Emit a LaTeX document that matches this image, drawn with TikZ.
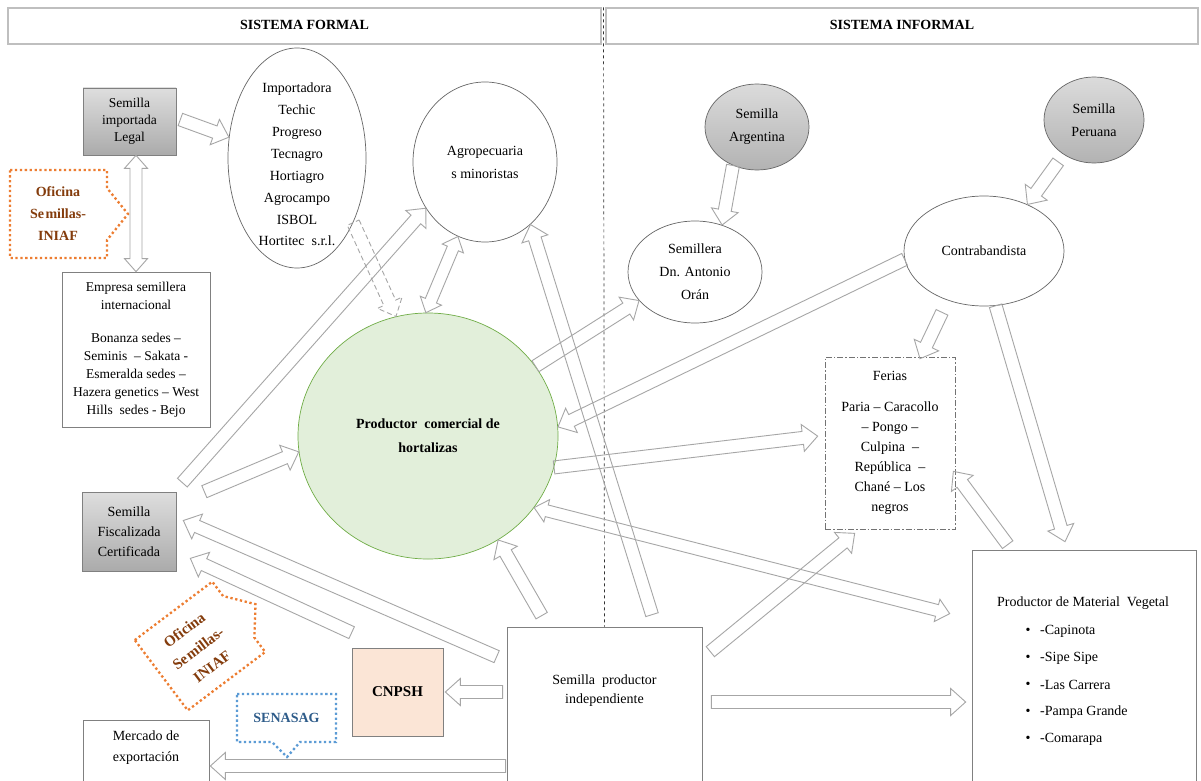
\documentclass[tikz,border=0pt]{standalone}
\usepackage{fontspec}
\setmainfont{Liberation Serif}
\usetikzlibrary{calc,shapes.geometric}
\definecolor{arrgray}{HTML}{A6A6A6}
\definecolor{boxgray}{HTML}{808080}
\definecolor{hdrgray}{HTML}{BFBFBF}
\definecolor{greenfill}{HTML}{E2EFDA}
\definecolor{greenline}{HTML}{70AD47}
\definecolor{peach}{HTML}{FBE5D6}
\definecolor{orangedot}{HTML}{ED7D31}
\definecolor{brownt}{HTML}{843C0C}
\definecolor{bluedot}{HTML}{5B9BD5}
\definecolor{bluet}{HTML}{2E5C8A}

% single block arrow from #2 to #3
\newcommand\barr[3][]{%
  \coordinate (bA) at (#2);
  \coordinate (bB) at (#3);
  \coordinate (bH) at ($(bB)!15pt!(bA)$);
  \draw[blockarrow,#1] ($(bA)!6.5pt!90:(bB)$) -- ($(bH)!6.5pt!-90:(bA)$) -- ($(bH)!13.5pt!-90:(bA)$) -- (bB) -- ($(bH)!13.5pt!90:(bA)$) -- ($(bH)!6.5pt!90:(bA)$) -- ($(bA)!6.5pt!-90:(bB)$) -- cycle;
}
% double block arrow between #2 and #3
\newcommand\darr[3][]{%
  \coordinate (bA) at (#2);
  \coordinate (bB) at (#3);
  \coordinate (bH) at ($(bB)!13pt!(bA)$);
  \coordinate (bG) at ($(bA)!13pt!(bB)$);
  \draw[blockarrow,#1] (bA) -- ($(bG)!11.5pt!-90:(bB)$) -- ($(bG)!6pt!-90:(bB)$) -- ($(bH)!6pt!90:(bA)$) -- ($(bH)!11.5pt!90:(bA)$) -- (bB) -- ($(bH)!11.5pt!-90:(bA)$) -- ($(bH)!6pt!-90:(bA)$) -- ($(bG)!6pt!90:(bB)$) -- ($(bG)!11.5pt!90:(bB)$) -- cycle;
}

\tikzset{
  txt/.style={align=center, inner sep=2pt, font=\fontsize{14}{18}\selectfont},
  box/.style={draw=boxgray, line width=0.7pt, fill=white, align=center, inner sep=2pt, font=\fontsize{14}{18}\selectfont},
  graybox/.style={box, top color=black!13, bottom color=black!33},
  ell/.style={ellipse, draw=black!60, line width=0.7pt, fill=white, align=center, inner sep=0pt, font=\fontsize{14}{23}\selectfont},
  grayell/.style={ell, top color=black!14, bottom color=black!30},
  blockarrow/.style={draw=arrgray, line width=0.9pt, line join=miter},
  hdr/.style={draw=hdrgray, line width=1.2pt, font=\bfseries\fontsize{14}{16}\selectfont, inner sep=0pt},
  orangecall/.style={draw=orangedot, line width=2.3pt, dash pattern=on 2.3pt off 2.6pt},
  bluecall/.style={draw=bluedot, line width=2.3pt, dash pattern=on 2.3pt off 2.6pt},
}

\begin{document}
\begin{tikzpicture}[x=1pt,y=-1pt]
\useasboundingbox (0,0) rectangle (1201,781);
\clip (0,0) rectangle (1201,781);
\fill[white] (0,0) rectangle (1201,781);

% headers
\node[hdr, minimum width=593pt, minimum height=36pt] (hf) at (304.5,26) {\raisebox{3pt}{SISTEMA FORMAL}};
\node[hdr, minimum width=592pt, minimum height=36pt] (hi) at (902,26) {\raisebox{3pt}{SISTEMA INFORMAL}};

% boxes
\node[graybox, minimum width=93pt, minimum height=67pt, font=\fontsize{13.5}{17}\selectfont] (sil) at (129.5,121.5) {Semilla\\importada\\Legal};
\node[box, minimum width=148pt, minimum height=155pt, font=\fontsize{13.5}{18}\selectfont] (emp) at (136,349.5) {Empresa semillera\\internacional\\[15pt]Bonanza sedes –\\Seminis\ \ – Sakata -\\Esmeralda sedes –\\Hazera genetics – West\\Hills\ \ sedes - Bejo};
\node[graybox, minimum width=94pt, minimum height=79pt, font=\fontsize{14}{20}\selectfont] (sfc) at (129,531.5) {Semilla\\Fiscalizada\\Certificada};
\node[box, minimum width=126pt, minimum height=80pt] (merc) at (146,760) {};
\node[txt, font=\fontsize{14}{21}\selectfont] (mercT) at (146,747.5) {Mercado de\\exportación};
\node[box, fill=peach, minimum width=91pt, minimum height=88pt, font=\bfseries\fontsize{15}{17}\selectfont] (cnpsh) at (397.5,692) {CNPSH};
\node[box, minimum width=195pt, minimum height=173pt] (spi) at (604.5,713.5) {};
\node[txt, font=\fontsize{14}{19}\selectfont] (spiT) at (604.5,691) {Semilla\ \ productor\\independiente};
\node[box, minimum width=224pt, minimum height=250pt] (pmv) at (1084,675) {};
\node[txt] (pmvT) at (1083,603) {Productor de Material\ \ Vegetal};
\foreach \t [count=\i] in {-Capinota,-Sipe Sipe,-Las Carrera,-Pampa Grande,-Comarapa}{
  \node[txt] (bul\i) at (1028,604+27*\i) {•};
  \node[txt, anchor=west] (item\i) at (1038,604+27*\i) {\t};
}
\node[box, draw=black!55, dash pattern=on 6pt off 2pt on 1.5pt off 2pt, minimum width=130pt, minimum height=172pt, font=\fontsize{14}{20}\selectfont] (ferias) at (890,443) {Ferias\\[11pt]Paria – Caracollo\\– Pongo –\\Culpina\ \ –\\República\ \ –\\Chané – Los\\negros};

% ellipses
\node[ell, minimum width=138pt, minimum height=220pt] (imp) at (297,158) {};
\node[txt, font=\fontsize{14}{21.9}\selectfont] (impT) at (297,164.5) {Importadora\\Techic\\Progreso\\Tecnagro\\Hortiagro\\Agrocampo\\ISBOL\\Hortitec\ \ s.r.l.};
\node[ell, minimum width=144pt, minimum height=160pt] (agro) at (485,162) {Agropecuaria\\s minoristas};
\node[ell, draw=greenline, fill=greenfill, minimum width=260pt, minimum height=246pt, font=\bfseries\fontsize{14}{24}\selectfont] (prod) at (428,436) {Productor\ \ comercial de\\hortalizas};
\node[grayell, minimum width=104pt, minimum height=86pt] (arg) at (757,127) {Semilla\\Argentina};
\node[grayell, minimum width=100pt, minimum height=86pt] (peru) at (1094,120) {Semilla\\Peruana};
\node[ell, minimum width=134pt, minimum height=102pt] (oran) at (695,272) {Semillera\\Dn. Antonio\\Orán};
\node[ell, minimum width=160pt, minimum height=110pt] (contra) at (984,251) {Contrabandista};

% dashed divider
\draw[dashed, black!80, line width=0.7pt] ($(hf.north east)!0.5!(hi.north west)$) -- (spi.north);

% callouts
\draw[orangecall] (10,170) -- (107,170) -- (107,188) -- (128,214) -- (107,240) -- (107,258) -- (10,258) -- cycle;
\node[txt, font=\bfseries\fontsize{14}{22}\selectfont, text=brownt] (ofi1) at (58,214) {Oficina\\Se\kern1.5pt millas-\\INIAF};
\begin{scope}[shift={(200,646)}, rotate=37]
\draw[orangecall] (-48.5,-44) -- (48.5,-44) -- (48.5,-26) -- (69.5,0) -- (48.5,26) -- (48.5,44) -- (-48.5,44) -- cycle;
\end{scope}
\node[txt, rotate=37, font=\bfseries\fontsize{15}{23}\selectfont, text=brownt] (ofi2) at (198,648) {Oficina\\Se\kern1.5pt millas-\\INIAF};
\draw[bluecall] (237,694) -- (336,694) -- (336,742) -- (300,742) -- (287,757) -- (272,742) -- (237,742) -- cycle;
\node[txt, font=\bfseries\fontsize{14}{16}\selectfont, text=bluet] (sen) at (286.5,718) {SENASAG};

% arrows
\barr{$(sil.east)+(4,-2)$}{imp.163}
\darr{sil.south -| emp.north}{emp.north}
\darr{prod.91}{agro.250}
\barr[dash pattern=on 5pt off 3pt]{imp.-49}{prod.105}
\barr{$(sfc.north east)+(6,-9)$}{agro.218}
\barr{$(sfc.north east)+(28,0)$}{prod.187}
\barr{prod.33}{oran.207}
\barr{contra.186}{prod.4}
\barr{prod.-14}{$(ferias.174)+(-7,0)$}
\darr{prod.-34}{$(pmv.north west)+(-22,64)$}
\barr{$(spi.north)+(47.5,-12)$}{agro.-54}
\barr{$(spi.north west)+(35,-11)$}{prod.-56}
\barr{$(spi.north west)+(-10,30)$}{$(sfc.east)+(7,-11)$}
\coordinate (free1) at ($(cnpsh.north west)+(0,-15)$);
\barr{free1}{$(sfc.south east)+(14,-13)$}
\barr{$(cnpsh.east -| spi.west)+(-4,0)$}{$(cnpsh.east)+(2,0)$}
\coordinate (mA) at ($(spi.west)+(-1,52.5)$);
\barr{mA}{$(mA -| merc.east)+(1,0)$}
\barr{$(spi.north east)+(8,25)$}{$(ferias.south west)+(30,4)$}
\coordinate (pA) at ($(spi.east)+(9,-11.5)$);
\barr{pA}{$(pA -| pmv.west)+(-6,0)$}
\barr{$(pmv.north west)+(36,-5)$}{$(ferias.south east)+(-2,-58)$}
\barr{contra.-78}{$(pmv.north)+(-19,-8)$}
\barr{$(contra.south)+(-42,6)$}{$(ferias.north)+(30,2)$}
\barr{arg.-122}{oran.60}
\barr{$(peru.-135)+(-3,9)$}{contra.47}
\end{tikzpicture}
\end{document}
